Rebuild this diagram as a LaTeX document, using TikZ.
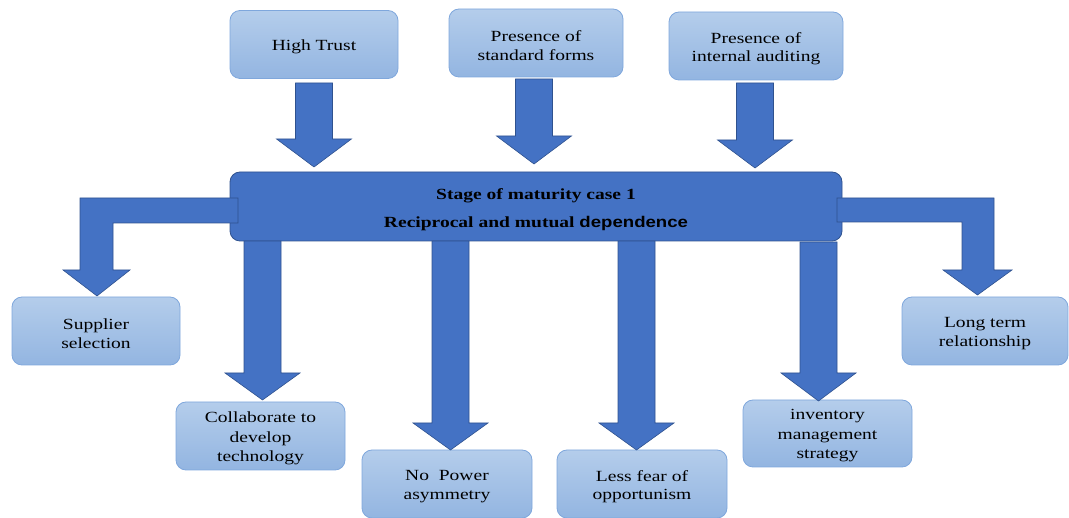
\documentclass[tikz,border=0pt]{standalone}
\usepackage{fontspec}
\setmainfont{Liberation Serif}[FakeStretch=1.26]
\newfontfamily\sansb{Liberation Sans}[FakeStretch=1.2]
\definecolor{dblue}{HTML}{4472C4}
\definecolor{dborder}{HTML}{2F528F}
\definecolor{boxtop}{HTML}{B4CDEB}
\definecolor{boxbot}{HTML}{93B5E1}
\definecolor{boxline}{HTML}{7FA7DC}
\newcommand\blockdown[4]{%
  \draw[blockarrow] (#1-18.5,#2) -- (#1+18.5,#2) -- (#1+18.5,#3) -- (#1+37.5,#3)
    -- (#1,#4) -- (#1-37.5,#3) -- (#1-18.5,#3) -- cycle;}
% box node #1 at (#2,#3), width #4, height #5, text #6 (placed slightly low as in the reference)
\newcommand\tbox[7][boxtxt]{%
  \node[lbox, minimum width=#5pt, minimum height=#6pt] (#2) at (#3,#4) {};
  \node[#1] (#2t) at ([yshift=-2.5pt]#2.center) {#7};}
\begin{document}
\begin{tikzpicture}[x=1pt,y=-1pt,
  lbox/.style={rounded corners=10pt, draw=boxline, line width=0.8pt,
    top color=boxtop, bottom color=boxbot, inner sep=0pt},
  boxtxt/.style={inner sep=0pt, align=center, font=\fontsize{15.5}{18.5}\selectfont},
  talltxt/.style={boxtxt, font=\fontsize{15.5}{19.5}\selectfont},
  corebox/.style={rounded corners=10pt, draw=dborder, line width=0.8pt,
    fill=dblue, inner sep=0pt, minimum width=612pt, minimum height=69pt},
  coretxt/.style={inner sep=0pt, align=center, font=\fontsize{15.5}{18.5}\selectfont\bfseries},
  blockarrow/.style={fill=dblue, draw=dborder, line width=0.6pt, line join=miter}]
\useasboundingbox (0,0) rectangle (1069,518);

% top boxes
\tbox{ht}{314}{44.5}{168}{68}{High Trust}
\tbox{sf}{536}{43}{174}{68}{Presence of\\standard forms}
\tbox{ia}{756}{46}{174}{68}{Presence of\\internal auditing}

% central box
\node[corebox] (core) at (536,206.5) {};
\node[coretxt] (coret) at ([yshift=-3pt]core.center) {Stage of maturity case 1\\[9.5pt]Reciprocal and mutual {\sansb\bfseries dependence}};

% bottom boxes
\tbox{ss}{96}{331}{168}{68}{Supplier\\selection}
\tbox{lt}{985}{331}{166}{68}{Long term\\relationship}
\tbox[talltxt]{co}{260.5}{436}{169}{68}{Collaborate to\\develop\\technology}
\tbox{np}{447}{484}{170}{68}{No~ Power\\asymmetry}
\tbox{lf}{642}{484}{170}{68}{Less fear of\\opportunism}
\tbox[talltxt]{inv}{827.5}{433.5}{169}{67}{inventory\\management\\strategy}

% arrows from top boxes into the central box
\blockdown{314}{83}{139}{167}
\blockdown{534}{79}{136}{164}
\blockdown{755}{83}{140}{168}

% arrows from the central box down to the bottom boxes
\blockdown{262.5}{241}{373}{400}
\blockdown{450.5}{241}{423}{450}
\blockdown{636.5}{241}{423}{450}
\blockdown{818.5}{242}{373}{401}

% bent arrows
\draw[blockarrow] (238,198) -- (80,198) -- (80,270) -- (63,270) -- (97,296)
  -- (130,270) -- (113,270) -- (113,223) -- (238,223) -- cycle;
\draw[blockarrow] (837,198) -- (994,198) -- (994,270) -- (1012,270) -- (977.5,295)
  -- (943,270) -- (962,270) -- (962,222) -- (837,222) -- cycle;
\end{tikzpicture}
\end{document}
